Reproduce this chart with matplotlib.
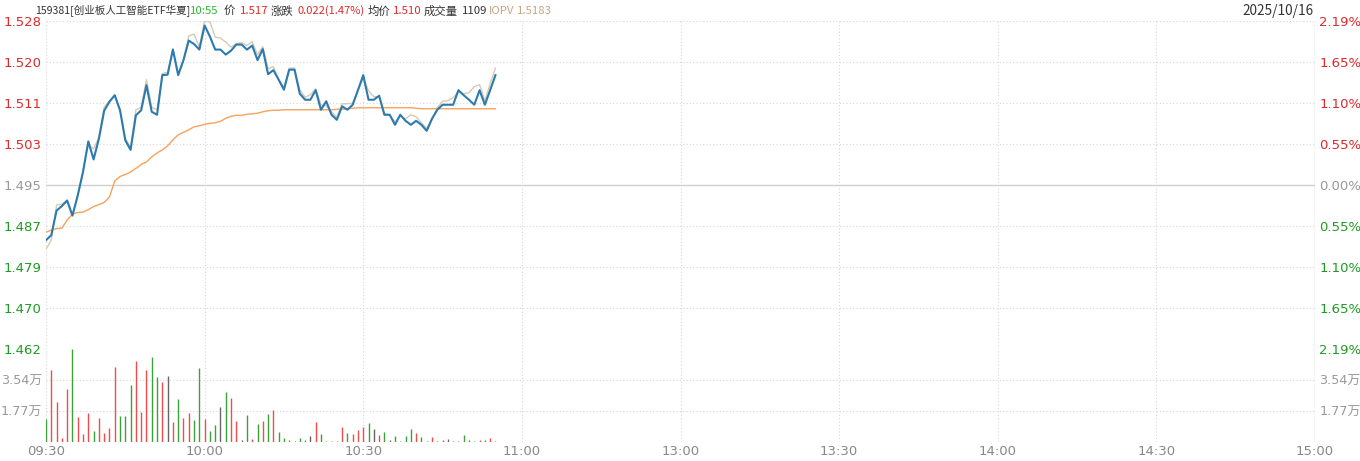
import matplotlib
matplotlib.use("Agg")
import matplotlib.pyplot as plt
import numpy as np

plt.rcParams['font.family'] = ['Noto Sans CJK SC', 'DejaVu Sans']
NUM_FONT = ['DejaVu Sans', 'Noto Sans CJK SC']

# minute-by-minute data from 09:30 to 10:55
price = [1.4840, 1.4850, 1.4899, 1.4908, 1.4919, 1.4889, 1.4929, 1.4976, 1.5037, 1.5001,
         1.5042, 1.5098, 1.5116, 1.5129, 1.5099, 1.5039, 1.5020, 1.5089, 1.5099, 1.5149,
         1.5096, 1.5090, 1.5169, 1.5170, 1.5220, 1.5169, 1.5199, 1.5238, 1.5231, 1.5220,
         1.5268, 1.5246, 1.5220, 1.5220, 1.5210, 1.5218, 1.5230, 1.5230, 1.5220, 1.5228,
         1.5199, 1.5221, 1.5171, 1.5179, 1.5160, 1.5140, 1.5180, 1.5180, 1.5132, 1.5120,
         1.5120, 1.5139, 1.5100, 1.5117, 1.5090, 1.5080, 1.5107, 1.5100, 1.5110, 1.5139,
         1.5169, 1.5120, 1.5120, 1.5128, 1.5090, 1.5090, 1.5070, 1.5090, 1.5078, 1.5070,
         1.5078, 1.5070, 1.5058, 1.5082, 1.5100, 1.5110, 1.5110, 1.5110, 1.5139, 1.5129,
         1.5120, 1.5110, 1.5139, 1.5110, 1.5139, 1.5169]
iopv = [1.4822, 1.4840, 1.4910, 1.4912, 1.4920, 1.4890, 1.4930, 1.4978, 1.5030, 1.5022,
        1.5045, 1.5105, 1.5118, 1.5129, 1.5100, 1.5043, 1.5025, 1.5100, 1.5105, 1.5160,
        1.5105, 1.5100, 1.5172, 1.5175, 1.5222, 1.5172, 1.5200, 1.5247, 1.5251, 1.5225,
        1.5278, 1.5275, 1.5245, 1.5243, 1.5235, 1.5225, 1.5232, 1.5234, 1.5228, 1.5236,
        1.5210, 1.5226, 1.5182, 1.5186, 1.5160, 1.5145, 1.5183, 1.5183, 1.5140, 1.5125,
        1.5130, 1.5142, 1.5110, 1.5108, 1.5096, 1.5085, 1.5112, 1.5112, 1.5113, 1.5140,
        1.5163, 1.5138, 1.5126, 1.5126, 1.5093, 1.5090, 1.5076, 1.5088, 1.5082, 1.5090,
        1.5086, 1.5074, 1.5063, 1.5080, 1.5104, 1.5117, 1.5118, 1.5124, 1.5136, 1.5132,
        1.5134, 1.5146, 1.5150, 1.5118, 1.5152, 1.5183]
avg_price = [1.4856, 1.4860, 1.4863, 1.4864, 1.4880, 1.4892, 1.4895, 1.4896, 1.4901, 1.4907,
             1.4911, 1.4915, 1.4926, 1.4958, 1.4967, 1.4971, 1.4976, 1.4983, 1.4991, 1.4996,
             1.5006, 1.5014, 1.5020, 1.5028, 1.5040, 1.5050, 1.5055, 1.5060, 1.5066, 1.5068,
             1.5071, 1.5073, 1.5074, 1.5077, 1.5083, 1.5087, 1.5089, 1.5089, 1.5091, 1.5092,
             1.5093, 1.5096, 1.5098, 1.5099, 1.5099, 1.5100, 1.5100, 1.5100, 1.5100, 1.5100,
             1.5100, 1.5100, 1.5100, 1.5100, 1.5100, 1.5101, 1.5101, 1.5102, 1.5103, 1.5104,
             1.5104, 1.5104, 1.5104, 1.5104, 1.5104, 1.5104, 1.5104, 1.5104, 1.5104, 1.5104,
             1.5103, 1.5102, 1.5102, 1.5102, 1.5102, 1.5102, 1.5102, 1.5102, 1.5102, 1.5102,
             1.5102, 1.5102, 1.5102, 1.5102, 1.5102, 1.5102]
volume = [1.31, 4.11, 2.26, 0.21, 3.03, 5.31, 1.41, 0.44, 1.64, 0.63,
          1.35, 0.49, 0.78, 4.30, 1.48, 1.48, 3.25, 4.62, 1.73, 4.11,
          4.83, 3.69, 3.44, 3.77, 1.16, 2.45, 1.39, 1.67, 1.26, 4.24,
          1.29, 0.63, 0.97, 1.98, 2.87, 2.53, 1.22, 0.11, 1.54, 0.15,
          1.03, 1.22, 1.60, 1.83, 0.59, 0.21, 0.11, 0.06, 0.25, 0.11,
          0.34, 1.12, 0.46, 0.06, 0.06, 0.06, 0.84, 0.49, 0.44, 0.67,
          0.84, 1.07, 0.72, 0.38, 0.55, 0.11, 0.34, 0.06, 0.34, 0.74,
          0.49, 0.30, 0.06, 0.27, 0.06, 0.11, 0.19, 0.08, 0.08, 0.38,
          0.11, 0.06, 0.11, 0.11, 0.23, 0.06]
direction = "grrrrgrrrgrrrrgggrrrggrnrgrrggrggngrrngrgrgrggrnggnrgrggrgrrrgnrgngrggrgnrrrngrgggrgrr"

pre_close = 1.495
span = 0.0327
price_labels = ["1.462", "1.470", "1.479", "1.487", "1.495", "1.503", "1.511", "1.520", "1.528"]
pct_labels = ["2.19%", "1.65%", "1.10%", "0.55%", "0.00%", "0.55%", "1.10%", "1.65%", "2.19%"]
vol_labels = ["1.77万", "3.54万"]
vol_max = 5.31
time_labels = ["09:30", "10:00", "10:30", "11:00", "13:00", "13:30", "14:00", "14:30", "15:00"]

RED = "#e0282a"
GREEN = "#1f9a22"
GRAY = "#999999"
GRID = "#d6d6d6"
bar_colors = {"r": "#f24b4b", "g": "#3aa23a", "n": "#666666"}

minutes = np.arange(len(price))
xticks = np.arange(0, 241, 30)

fig = plt.figure(figsize=(13.6, 4.61), dpi=100)
left, width = 46 / 1360, 1269 / 1360
ax = fig.add_axes([left, 1 - 349 / 461, width, 328 / 461])
axv = fig.add_axes([left, 1 - 442 / 461, width, 93 / 461])

# price panel
ax.plot(minutes, iopv, color="#d9c9b3", lw=1.0, zorder=3)
ax.plot(minutes, avg_price, color="#f5a25d", lw=1.0, zorder=3)
ax.plot(minutes, price, color="#2b7bb0", lw=1.5, zorder=4)
ax.set_xlim(0, 240)
ax.set_ylim(pre_close - span, pre_close + span)
yt = np.linspace(pre_close - span, pre_close + span, 9)


def side_color(v):
    if v > pre_close + 1e-6:
        return RED
    if v < pre_close - 1e-6:
        return GREEN
    return GRAY


ax.set_yticks(yt)
ax.set_yticklabels(price_labels, family=NUM_FONT, fontsize=9.5)
ax.set_xticks(xticks)
ax.tick_params(axis="x", length=0, labelbottom=False)
ax.tick_params(axis="y", length=0, pad=3)
for lab, v in zip(ax.get_yticklabels(), yt):
    lab.set_color(side_color(v))
for v in yt:
    if abs(v - pre_close) < 1e-6:
        ax.axhline(v, color="#d0d0d0", lw=1.0, zorder=1)
    else:
        ax.axhline(v, color=GRID, lw=0.8, ls=(0, (1, 2)), zorder=1)

axr = ax.twinx()
axr.set_ylim(ax.get_ylim())
axr.set_yticks(yt)
axr.set_yticklabels(pct_labels, family=NUM_FONT, fontsize=9.5)
axr.tick_params(axis="y", length=0, pad=3)
for lab, v in zip(axr.get_yticklabels(), yt):
    lab.set_color(side_color(v))

# volume panel
axv.vlines(minutes, 0, volume, colors=[bar_colors[d] for d in direction], lw=1.0)
axv.set_xlim(0, 240)
axv.set_ylim(0, vol_max)
vt = [vol_max / 3, vol_max * 2 / 3]
axv.set_yticks(vt)
axv.set_yticklabels(vol_labels, color=GRAY, family=NUM_FONT, fontsize=9.2)
axv.tick_params(axis="y", length=0, pad=3)
for v in vt:
    axv.axhline(v, color=GRID, lw=0.8, ls=(0, (1, 2)), zorder=0)
axv.set_xticks(xticks)
axv.set_xticklabels(time_labels, color="#888888", family=NUM_FONT, fontsize=9.5)
axv.tick_params(axis="x", length=0, pad=2)

axvr = axv.twinx()
axvr.set_ylim(axv.get_ylim())
axvr.set_yticks(vt)
axvr.set_yticklabels(vol_labels, color=GRAY, family=NUM_FONT, fontsize=9.2)
axvr.tick_params(axis="y", length=0, pad=3)

for a in (ax, axv, axr, axvr):
    for s in a.spines.values():
        s.set_visible(False)
for a in (ax, axv):
    for x in xticks[:-1]:
        a.axvline(x, color=GRID, lw=0.8, ls=(0, (1, 2)), zorder=0)
    a.axvline(240, color="#d0d0d0", lw=1.0, zorder=0)

# header
header = [("159381[创业板人工智能ETF华夏]", 35, "#333333", 7.6), ("10:55", 190, "#33b533", 8.2),
          ("价", 224, "#333333", 8.2), ("1.517", 240, RED, 8.2), ("涨跌", 271, "#333333", 8.2),
          ("0.022(1.47%)", 298, RED, 8.0), ("均价", 368, "#333333", 8.2), ("1.510", 393, RED, 8.2),
          ("成交量", 424, "#333333", 8.2), ("1109", 462, "#333333", 8.2),
          ("IOPV", 489, "#c4a684", 8.2), ("1.5183", 517, "#c4a684", 8.2)]
for txt, px, col, fs in header:
    fig.text(px / 1360, 1 - 11 / 461, txt, color=col, fontsize=fs, ha="left", va="center")
fig.text(1314 / 1360, 1 - 11 / 461, "2025/10/16", color="#333333", fontsize=9.8,
         ha="right", va="center")

fig.savefig("out.png", dpi=100)
